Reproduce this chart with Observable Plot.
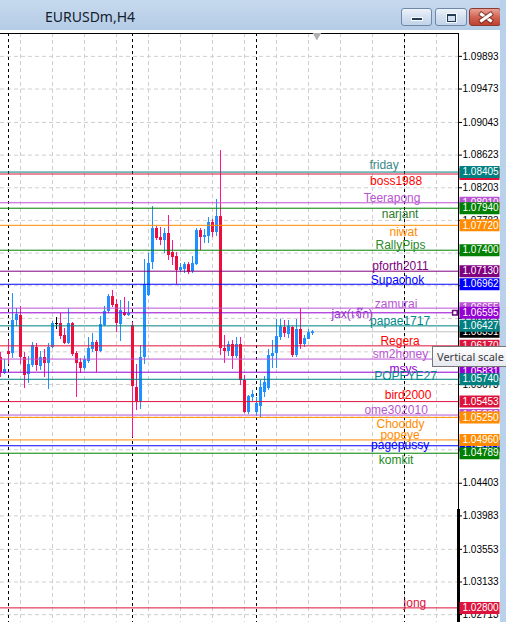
<!DOCTYPE html>
<html><head><meta charset="utf-8">
<script src="https://cdn.jsdelivr.net/npm/d3@7"></script>
<script src="https://cdn.jsdelivr.net/npm/@observablehq/plot@0.6"></script>
<style>
body{margin:0;background:#fff;}
#wrap{position:relative;width:506px;height:622px;overflow:hidden;background:#fff;}
#titlebar{position:absolute;left:0;top:0;width:506px;height:30px;background:linear-gradient(#c6d9ee,#b5cce6);}
#title{position:absolute;left:45px;top:10px;font:14px/14px "Noto Sans",sans-serif;color:#14202e;white-space:nowrap;}
.btn{position:absolute;top:8px;height:18px;border:1px solid #6f88a8;border-radius:3px;box-sizing:border-box;background:linear-gradient(#eef3fa,#d3e0f0 50%,#c2d3ea);}
#bmin{left:401px;width:31px;}
#bmax{left:435px;width:32px;}
#bclose{left:469px;width:32px;border-color:#8a3a30;background:linear-gradient(#e9a296,#d26555 50%,#c0402e);}
#bmin i{position:absolute;left:10px;top:9px;width:10px;height:2px;background:#243a56;box-shadow:0 0 0 1px rgba(255,255,255,.85);}
#bmax i{position:absolute;left:11px;top:5px;width:7px;height:5px;border:1px solid #243a56;border-top-width:2px;box-shadow:0 0 0 1px rgba(255,255,255,.85);}
#bclose i{position:absolute;left:9px;top:7px;width:14px;height:3px;background:#fff;box-shadow:0 0 0 1px rgba(90,20,10,.6);}
#bclose i.a{transform:rotate(35deg);} #bclose i.b{transform:rotate(-35deg);}
#chart{position:absolute;left:0;top:30px;}
#frameR{position:absolute;left:500px;top:0;width:6px;height:622px;background:#b9d1ea;}
#tip{position:absolute;left:432px;top:346px;width:90px;height:21px;box-sizing:border-box;border:1px solid #767676;background:linear-gradient(#ffffff,#e6e8f1);font:11px/19px "Noto Sans",sans-serif;color:#3a3a3a;padding-left:4px;white-space:nowrap;}
</style></head>
<body>
<div id="wrap">
  <div id="titlebar"><div id="title">EURUSDm,H4</div>
    <div class="btn" id="bmin"><i></i></div>
    <div class="btn" id="bmax"><i></i></div>
    <div class="btn" id="bclose"><i class="a"></i><i class="b"></i></div>
  </div>
  <div id="chart"></div>
  <div id="frameR"></div>
  <div id="tip">Vertical scale</div>
</div>
<script>
// ---- candle data (H4 bars, index 0..78) ----
const open = [1.06020,1.05814,1.06097,1.06071,1.06496,1.06560,1.06020,1.05801,1.05917,1.06149,
1.05904,1.06020,1.05943,1.06149,1.06457,1.06457,1.06303,1.06200,1.06457,1.06071,
1.05956,1.05879,1.05969,1.06123,1.06213,1.06097,1.06431,1.06612,1.06804,1.06702,
1.06444,1.06599,1.06560,1.06431,1.05634,1.05454,1.06020,1.06817,1.07242,1.07679,
1.07563,1.07525,1.07615,1.07370,1.07319,1.07139,1.07152,1.07215,1.07126,1.07215,
1.07653,1.07563,1.07576,1.07756,1.07628,1.07833,1.06136,1.06097,1.06187,1.06033,
1.06187,1.05724,1.05313,1.05506,1.05313,1.05390,1.05570,1.05621,1.06033,1.06071,
1.06277,1.06406,1.06316,1.06406,1.06046,1.06380,1.06187,1.06251,1.06329];
const high = [1.06084,1.05994,1.06239,1.06843,1.06650,1.06676,1.06084,1.06033,1.06213,1.06200,
1.06097,1.06123,1.06200,1.06483,1.06534,1.06586,1.06393,1.06650,1.06470,1.06097,
1.06007,1.06033,1.06277,1.06329,1.06239,1.06547,1.06676,1.06830,1.06882,1.06766,
1.06753,1.06792,1.06740,1.06470,1.05930,1.06174,1.07280,1.07357,1.07962,1.07705,
1.07692,1.07679,1.07846,1.07525,1.07370,1.07229,1.07242,1.07242,1.07319,1.07679,
1.07679,1.07666,1.07820,1.07795,1.08052,1.08682,1.06303,1.06226,1.06239,1.06277,
1.06277,1.05789,1.05531,1.05596,1.05506,1.05724,1.05776,1.06123,1.06239,1.06509,
1.06509,1.06496,1.06496,1.06418,1.06509,1.06650,1.06303,1.06380,1.06367];
const low = [1.05763,1.05801,1.05930,1.06007,1.06418,1.05930,1.05621,1.05686,1.05891,1.05840,
1.05853,1.05763,1.05609,1.06136,1.06380,1.06251,1.06187,1.06187,1.06033,1.05506,
1.05814,1.05853,1.05943,1.06084,1.05827,1.06084,1.06418,1.06586,1.06663,1.06341,
1.06226,1.06547,1.06547,1.04991,1.05338,1.05351,1.05930,1.06804,1.07152,1.07525,
1.07460,1.07357,1.07267,1.07203,1.06959,1.07113,1.07100,1.07087,1.07100,1.07203,
1.07396,1.07486,1.07486,1.07563,1.07576,1.06046,1.05943,1.06033,1.05866,1.06007,
1.05660,1.05300,1.05287,1.05454,1.05261,1.05236,1.05506,1.05596,1.05879,1.05879,
1.06239,1.06277,1.06264,1.06020,1.06020,1.06123,1.06149,1.06251,1.06303];
const close = [1.05814,1.05866,1.06059,1.06496,1.06573,1.06020,1.05789,1.05930,1.06174,1.05917,
1.06020,1.05943,1.06149,1.06457,1.06457,1.06290,1.06200,1.06457,1.06059,1.05943,
1.05879,1.05994,1.06136,1.06213,1.06097,1.06444,1.06612,1.06804,1.06689,1.06457,
1.06624,1.06560,1.06586,1.05647,1.05454,1.06020,1.06959,1.07229,1.07679,1.07550,
1.07525,1.07615,1.07332,1.07306,1.07139,1.07177,1.07215,1.07113,1.07229,1.07653,
1.07563,1.07589,1.07756,1.07628,1.07833,1.06136,1.06097,1.06187,1.06033,1.06187,
1.05724,1.05313,1.05518,1.05544,1.05428,1.05634,1.05699,1.06046,1.06071,1.06290,
1.06418,1.06329,1.06418,1.06046,1.06380,1.06187,1.06264,1.06341,1.06351];

// ---- horizontal line objects ----
const lineNames = ["friday","boss1988","Teerapong","narjant","niwat","RallyPips","pforth2011","Supachok","zamurai","jax(เจ๊ก)","papae1717","Regera","sm2honey","msys","POPEYE27","bird2000","ome302010","Chooddy","popeye","pagepussy","komkit","jong"];
const lineValues = [1.08405,1.08380,1.08010,1.07940,1.07720,1.07400,1.07130,1.06962,1.06655,1.06595,1.06427,1.06170,1.06000,1.05831,1.05740,1.05453,1.05280,1.05250,1.04960,1.04885,1.04789,1.02800];
// text objects anchored at (bar index, price)
const labelTime = [95.9,98.9,97.9,99.9,100.75,100,100,99.25,98.9,87.9,99.9,99.9,100,100.75,101.25,101.9,98.9,100,99.9,99.9,98.9,103.6];
const labelPrice = [1.08489,1.08283,1.08069,1.07868,1.07631,1.07460,1.07190,1.07010,1.06711,1.06582,1.06483,1.06226,1.06068,1.05875,1.05776,1.05531,1.05338,1.05158,1.05026,1.04888,1.04704,1.02860];
const bidPrice = 1.06351;
const tagOrder = ["boss1988","friday","Teerapong","narjant","niwat","RallyPips","pforth2011","Supachok","zamurai","jax(เจ๊ก)","bid","papae1717","Regera","sm2honey","msys","POPEYE27","bird2000","ome302010","Chooddy","pagepussy","popeye","komkit","jong"];

// ---- axis ticks & grid ----
const tickValues = [1.09893,1.09473,1.09043,1.08623,1.08203,1.07783,1.07363,1.06943,1.06523,1.06093,1.05673,1.05253,1.04833,1.04403,1.03983,1.03553,1.03133,1.02713];
const gridBars = [5,13,21,29,37,45,53,61,69,77,85,93,101,109];
const separatorBars = [2,33,64,101];
const shiftBar = 79.1;
const selectedHandle = {t:113.6, p:1.06595};

// ---- styles ----
const lineColors = ["#008080","#DC143C","#BA55D3","#008000","#FF8C00","#008000","#800080","#0000FF","#BA55D3","#9400D3","#008080","#DC143C","#BA55D3","#9400D3","#008080","#DC143C","#BA55D3","#FF8C00","#FF8C00","#0000FF","#008000","#DC143C"];
const labelColors = ["#3a8a8a","#FF0000","#BA55D3","#2a7a2a","#FF8C00","#2a8a2a","#800080","#0000FF","#BA55D3","#9932CC","#008B8B","#FF0000","#BA55D3","#9400D3","#008B8B","#FF0000","#BA55D3","#FF8C00","#FF8C00","#0000FF","#228B22","#DC143C"];
const BULL = "#1E90FF", BEAR_BODY = "#EE0E3C", BEAR_WICK = "#FF1493";

const candles = open.map((o,i)=>({i, open:o, high:high[i], low:low[i], close:close[i]}));
const colorOf = d => d.close > d.open ? BULL : d.close < d.open ? BEAR_BODY : "#000";
const wickOf = d => d.close > d.open ? BULL : d.close < d.open ? BEAR_WICK : "#000";
const lines = lineNames.map((n,i)=>({name:n, value:lineValues[i], color:lineColors[i]}));
const labels = lineNames.map((n,i)=>({name:n, t:labelTime[i], p:labelPrice[i], color:labelColors[i]}));
const tagMap = new Map(lines.map(d=>[d.name,d]));
tagMap.set("bid", {name:"bid", value:bidPrice, color:"#000000"});
const fmt = d3.format(".5f");

const tagSymbol = {draw(ctx){ ctx.moveTo(-20,-6); ctx.lineTo(20,-6); ctx.lineTo(20,6); ctx.lineTo(-20,6); ctx.closePath(); }};
const tagMarks = tagOrder.flatMap(n => {
  const d = tagMap.get(n);
  return [
    Plot.dot([d], {y:"value", frameAnchor:"right", dx:21, symbol:tagSymbol, r:5, fill:d.color, stroke:"none"}),
    Plot.text([d], {y:"value", text:dd=>fmt(dd.value), frameAnchor:"right", dx:4, textAnchor:"start", fill:"#fff", fontSize:10})
  ];
});

const chart = Plot.plot({
  width: 506, height: 592,
  marginLeft: 0, marginRight: 48, marginTop: 3, marginBottom: 0,
  x: {domain:[0,114.5], axis:null},
  y: {domain:[1.02612,1.10187], axis:null},
  color: {type:"identity"},
  style: {background:"#fff", fontFamily:"'Liberation Sans', Arial, sans-serif", fontSize:"10px", color:"#000", overflow:"visible"},
  marks: [
    Plot.ruleY(tickValues, {stroke:"#cfcfcf", strokeDasharray:"4,3"}),
    Plot.ruleX(gridBars, {stroke:"#cfcfcf", strokeDasharray:"4,3"}),
    Plot.ruleX(separatorBars, {stroke:"#000", strokeDasharray:"3,3"}),
    Plot.ruleY([bidPrice], {stroke:"#c4c4c4"}),
    Plot.ruleX(candles, {x:"i", y1:"low", y2:"high", stroke:wickOf, strokeWidth:1}),
    Plot.ruleX(candles.filter(d=>d.open!==d.close), {x:"i", y1:"open", y2:"close", stroke:colorOf, strokeWidth:3}),
    Plot.ruleY(candles.filter(d=>d.open===d.close), {y:"open", x1:d=>d.i-0.25, x2:d=>d.i+0.5, stroke:"#000"}),
    Plot.ruleY(lines, {y:"value", stroke:"color"}),
    Plot.text(labels, {x:"t", y:"p", text:"name", fill:"color", fontSize:12}),
    Plot.dot([selectedHandle], {x:"t", y:"p", symbol:"square", r:2.6, stroke:"#6a0a80", fill:"#fff"}),
    Plot.ruleY([1.10187], {stroke:"#000"}),
    Plot.ruleX([114.5], {stroke:"#000"}),
    Plot.ruleX([114.5], {y1:1.04065, y2:1.02612, stroke:"#000", strokeWidth:3}),
    Plot.dot([shiftBar], {x:d=>d, frameAnchor:"top", symbol:"triangle", rotate:180, r:3.2, dy:2, fill:"#b0b0b0", stroke:"none"}),
    Plot.axisY(tickValues, {anchor:"right", tickFormat:fmt, tickSize:3, tickPadding:1, fontSize:10, label:null, stroke:"#000", fill:"#000"}),
    ...tagMarks
  ]
});
document.getElementById("chart").appendChild(chart);
</script>
</body></html>
